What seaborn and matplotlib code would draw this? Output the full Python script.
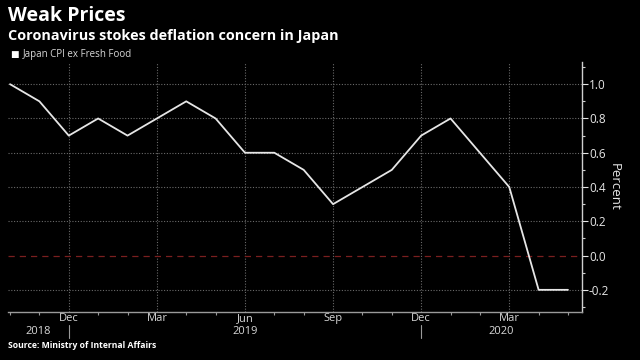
import matplotlib
matplotlib.use("Agg")
import matplotlib.pyplot as plt
import matplotlib.transforms as mtransforms
from matplotlib.ticker import MultipleLocator, FixedLocator
import seaborn as sns
import pandas as pd

months = ["2018-10", "2018-11", "2018-12", "2019-01", "2019-02", "2019-03", "2019-04",
          "2019-05", "2019-06", "2019-07", "2019-08", "2019-09", "2019-10", "2019-11",
          "2019-12", "2020-01", "2020-02", "2020-03", "2020-04", "2020-05"]
cpi = [1.0, 0.9, 0.7, 0.8, 0.7, 0.8, 0.9, 0.8, 0.6, 0.6, 0.5, 0.3, 0.4, 0.5,
       0.7, 0.8, 0.6, 0.4, -0.2, -0.2]
month_tick_labels = ["Dec", "Mar", "Jun", "Sep", "Dec", "Mar"]
month_tick_pos = [2, 5, 8, 11, 14, 17]
year_labels = ["2018", "2019", "2020"]
year_label_pos = [0.97, 8.0, 16.74]
year_separators = [2, 14]
y_ticks = [-0.2, 0.0, 0.2, 0.4, 0.6, 0.8, 1.0]

df = pd.DataFrame({"idx": range(len(months)), "cpi": cpi})

sns.set_theme(style="dark")
plt.rcParams["font.family"] = ["Open Sans", "DejaVu Sans"]

fig = plt.figure(figsize=(6.4, 3.6), dpi=100, facecolor="black")
ax = fig.add_axes([0.0125, 0.133, 0.897, 0.695])
ax.set_facecolor("black")

sns.lineplot(data=df, x="idx", y="cpi", ax=ax, color="#e6e6e6", linewidth=1.3)

ax.set_xlim(-0.07, 19.48)
ax.set_ylim(-0.33, 1.13)

# grid
for y in y_ticks:
    if y == 0:
        continue
    ax.axhline(y, color="#6a6a6a", linewidth=0.8, linestyle=(0, (1, 1.5)), zorder=0)
for x in month_tick_pos:
    ax.axvline(x, color="#6a6a6a", linewidth=0.8, linestyle=(0, (1, 1.5)), zorder=0)
ax.axhline(0, color="#7a1f1f", linewidth=0.9, linestyle=(0, (5, 4)), zorder=1)

# spines
for s in ["left", "top"]:
    ax.spines[s].set_visible(False)
ax.spines["right"].set_color("#cfcfcf")
ax.spines["bottom"].set_color("#9a9a9a")
ax.spines["right"].set_linewidth(1.0)
ax.spines["bottom"].set_linewidth(1.0)

ax.yaxis.tick_right()
ax.yaxis.set_label_position("right")
ax.set_yticks(y_ticks)
ax.set_yticklabels([f"{v:.1f}" for v in y_ticks])
ax.yaxis.set_minor_locator(MultipleLocator(0.1))
ax.tick_params(axis="y", which="major", colors="#e6e6e6", labelcolor="#e6e6e6",
               labelsize=8.5, length=4, width=0.8, direction="out", pad=1, left=False, right=True)
ax.tick_params(axis="y", which="minor", colors="#cfcfcf", length=2.5, width=0.8,
               direction="out", left=False, right=True)
ax.set_ylabel("Percent", color="#e6e6e6", fontsize=9.5, rotation=270, labelpad=8)

ax.set_xticks(month_tick_pos)
ax.set_xticklabels(month_tick_labels)
ax.xaxis.set_minor_locator(FixedLocator(list(range(0, 20))))
ax.tick_params(axis="x", which="major", colors="#9a9a9a", labelcolor="#d8d8d8",
               labelsize=8, length=0, pad=0.5)
ax.tick_params(axis="x", which="minor", colors="#9a9a9a", length=2, width=0.8,
               direction="out", bottom=True)
ax.set_xlabel("")

trans = mtransforms.blended_transform_factory(ax.transData, fig.transFigure)
for lbl, pos in zip(year_labels, year_label_pos):
    ax.text(pos, 1 - 332 / 360, lbl, transform=trans, ha="center", va="center",
            color="#d8d8d8", fontsize=8)
for xs in year_separators:
    ax.plot([xs, xs], [1 - 325 / 360, 1 - 338 / 360], transform=trans,
            color="#9a9a9a", linewidth=0.8, clip_on=False)

# titles
fig.text(0.0125, 1 - 16 / 360, "Weak Prices", color="white", fontsize=14,
         fontweight="bold", ha="left", va="center")
fig.text(0.0125, 1 - 36 / 360, "Coronavirus stokes deflation concern in Japan",
         color="white", fontsize=10.4, fontweight="bold", ha="left", va="center")
# legend
fig.text(0.016, 1 - 55 / 360, "\u25A0", color="white", fontsize=6.5,
         ha="left", va="center", family=["DejaVu Sans"])
fig.text(0.035, 1 - 55 / 360, "Japan CPI ex Fresh Food", color="#d8d8d8",
         fontsize=7, ha="left", va="center")
fig.text(0.0125, 1 - 345 / 360, "Source: Ministry of Internal Affairs", color="white",
         fontsize=6.2, fontweight="bold", ha="left", va="center")

fig.savefig("out.png", dpi=100, facecolor="black")
